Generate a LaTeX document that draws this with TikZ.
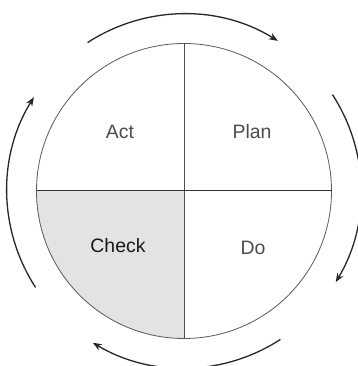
\documentclass[tikz,border=0pt]{standalone}
\usepackage{fontspec}
\setmainfont{Liberation Sans}
\usetikzlibrary{arrows.meta}
\begin{document}
\begin{tikzpicture}[x=1bp,y=1bp,
  ring/.style={draw=black!65,line width=0.8bp},
  divider/.style={draw=black!70,line width=0.8bp},
  cyclearrow/.style={draw=black!85,line width=1.3bp,-{Stealth[length=9bp,width=7bp]}},
  label/.style={font=\fontsize{19.5}{23}\selectfont,text=black!70,inner sep=0pt}]
\useasboundingbox (0,0) rectangle (358,366);
\coordinate (c) at (184,175);
\def\R{147.5}
\def\A{177}
% shaded Check quadrant
\fill[gray!22] (c) -- ++(180:\R) arc[start angle=180,end angle=270,radius=\R] -- cycle;
% circle
\draw[ring] (c) circle[radius=\R];
% dividers
\path (c) ++(90:\R) coordinate (top) (c) ++(270:\R) coordinate (bot)
      (c) ++(180:\R) coordinate (lft) (c) ++(0:\R) coordinate (rgt);
\draw[divider] (top) -- (bot);
\draw[divider,draw=black!80,line width=1bp] (lft) -- (rgt);
% labels
\node[label] (act) at (120,234) {Act};
\node[label] (plan) at (252,234) {Plan};
\node[label,text=black!90] (check) at (118,120) {Check};
\node[label] (do) at (253,118) {Do};
% cycle arrows
\path (c) ++(123:\A) coordinate (a1s) (c) ++(33:\A) coordinate (a2s)
      (c) ++(-57:\A) coordinate (a3s) (c) ++(213:\A) coordinate (a4s);
\draw[cyclearrow] (a1s) arc[start angle=123,end angle=58,radius=\A];
\draw[cyclearrow] (a2s) arc[start angle=33,end angle=-31,radius=\A];
\draw[cyclearrow] (a3s) arc[start angle=-57,end angle=-121,radius=\A];
\draw[cyclearrow] (a4s) arc[start angle=213,end angle=148,radius=\A];
\end{tikzpicture}
\end{document}
